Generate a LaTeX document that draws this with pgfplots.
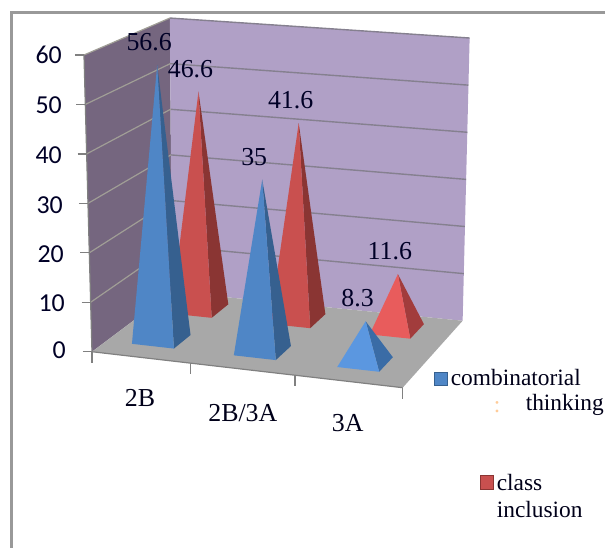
\documentclass[border=0pt]{standalone}
\usepackage{fontspec}
\setmainfont{Liberation Serif}
\newfontfamily\axisfont{Carlito}
\usepackage{pgfplots}
\usepackage{pgfplotstable}
\pgfplotsset{compat=1.18}

\definecolor{wallback}{HTML}{B0A0C6}
\definecolor{wallleft}{HTML}{75667F}
\definecolor{floorgray}{HTML}{A8A8A8}
\definecolor{framegray}{HTML}{999999}
\definecolor{gridback}{HTML}{85808F}
\definecolor{gridleft}{HTML}{A09E96}
\definecolor{tickgray}{HTML}{808080}
\definecolor{bluefront}{HTML}{4F86C6}
\definecolor{blueside}{HTML}{36608F}
\definecolor{redfront}{HTML}{C9504F}
\definecolor{redside}{HTML}{8A3533}
\definecolor{bluefrontlt}{HTML}{5B97E0}
\definecolor{bluesidelt}{HTML}{3A6CA6}
\definecolor{redfrontlt}{HTML}{E85C5C}
\definecolor{redsidelt}{HTML}{A23C3C}

% Faces of a unit pyramid: du, dv are base offsets, t is the fraction of the height
\pgfplotstableread{
du dv t
-1 -1 0
1 -1 0
0 0 1
}\frontface
\pgfplotstableread{
du dv t
1 -1 0
1 1 0
0 0 1
}\sideface

% Walls and floor, u in categories (0..3), v in depth (0..1), w in axis value (0..60)
\pgfplotstableread{
u v w
0 0 0
0 1 0
0 1 60
0 0 60
}\leftwall
\pgfplotstableread{
u v w
0 1 0
3 1 0
3 1 60
0 1 60
}\backwall
\pgfplotstableread{
u v w
0 0 0
3 0 0
3 1 0
0 1 0
}\floorpanel

\pgfplotsset{
  /pgfplots/table/chartxy/.style={
    x expr={px(\thisrow{u},\thisrow{v},\thisrow{w})},
    y expr={py(\thisrow{u},\thisrow{v},\thisrow{w})}},
}

% #1 category position, #2 depth position, #3 value, #4 front colour, #5 side colour
\newcommand{\pyramid}[5]{
  \addplot[fill=#5, draw=none] table[
    x expr={px(#1+0.205*\thisrow{du},#2+0.11*\thisrow{dv},#3*\thisrow{t})},
    y expr={py(#1+0.205*\thisrow{du},#2+0.11*\thisrow{dv},#3*\thisrow{t})}] {\sideface} -- cycle;
  \addplot[fill=#4, draw=none] table[
    x expr={px(#1+0.205*\thisrow{du},#2+0.11*\thisrow{dv},#3*\thisrow{t})},
    y expr={py(#1+0.205*\thisrow{du},#2+0.11*\thisrow{dv},#3*\thisrow{t})}] {\frontface} -- cycle;
  \addplot[draw=none, mark=none,
    nodes near coords={#3},
    nodes near coords style={anchor=center, xshift=-8bp, yshift=23bp, font=\fontsize{26}{30}\selectfont, text=black!85!blue}]
    table[row sep=\\, x expr={px(#1,#2,#3)}, y expr={py(#1,#2,#3)}] {t\\1\\};
}

\begin{document}
\begin{tikzpicture}
\begin{axis}[
  scale only axis, width=605bp, height=547bp,
  xmin=0, xmax=605, ymin=0, ymax=547, y dir=reverse,
  hide axis, clip=false,
  declare function={
    px(\U,\V,\W)=(1-\V)*((1-\U/3)*92+(\U/3)*403)+\V*((1-\U/3)*172+(\U/3)*463)
      +(\W/60)*((1-\V)*((1-\U/3)*(-8)+(\U/3)*5)+\V*((1-\U/3)*(-2)+(\U/3)*7));
    py(\U,\V,\W)=(1-\V)*((1-\U/3)*352+(\U/3)*388)+\V*((1-\U/3)*292+(\U/3)*321)
      +(\W/60)*((1-\V)*((1-\U/3)*(-297)+(\U/3)*(-303))+\V*((1-\U/3)*(-274)+(\U/3)*(-283)));
  },
]
% the picture covers the whole plotting rectangle, margins included
\addplot[draw=white, line width=0.1bp] coordinates {(0,0) (605,0) (605,547) (0,547)} -- cycle;

% outer frame of the chart area: left side and top side
\addplot[framegray, line width=3bp, line cap=rect] coordinates {(11,547) (11,12.5) (604,12.5)};

% walls and floor
\addplot[fill=wallleft, draw=none] table[chartxy] {\leftwall} -- cycle;
\addplot[fill=wallback, draw=none] table[chartxy] {\backwall} -- cycle;
\addplot[fill=floorgray, draw=none] table[chartxy] {\floorpanel} -- cycle;

% horizontal gridlines on both walls
\pgfplotsinvokeforeach{10,20,30,40,50,60}{
  \addplot[color=gridback, line width=1.4bp] table[row sep=\\,chartxy] {u v w\\3 1 #1\\0 1 #1\\};
  \addplot[color=gridleft, line width=1.2bp] table[row sep=\\,chartxy] {u v w\\0 1 #1\\0 0 #1\\};
}
% vertical axis line and value ticks
\addplot[color=tickgray, line width=1.2bp] table[row sep=\\,chartxy] {u v w\\0 0 0\\0 0 60\\};
\pgfplotsinvokeforeach{0,10,20,30,40,50,60}{
  \addplot[color=tickgray, line width=1.2bp] table[row sep=\\, x expr={px(0,0,#1)-\thisrow{d}}, y expr={py(0,0,#1)}] {d\\9\\0\\};
}
% front edge of the floor and category ticks
\addplot[color=tickgray, line width=1.2bp] table[row sep=\\,chartxy] {u v w\\0 0 0\\3 0 0\\};
\pgfplotsinvokeforeach{0,0.955,1.96,3}{
  \addplot[color=tickgray, line width=1.2bp] table[row sep=\\, x expr={px(#1,0,0)}, y expr={py(#1,0,0)+\thisrow{d}}] {d\\0\\11\\};
}

% pyramids, back to front within each category
\pyramid{0.455}{0.79}{46.6}{redfront}{redside}
\pyramid{0.455}{0.29}{56.6}{bluefront}{blueside}
\pyramid{1.45}{0.79}{41.6}{redfront}{redside}
\pyramid{1.45}{0.29}{35}{bluefront}{blueside}
\pyramid{2.46}{0.79}{11.6}{redfrontlt}{redsidelt}
\pyramid{2.46}{0.29}{8.3}{bluefrontlt}{bluesidelt}

% value axis labels
\tikzset{vlab/.style={font=\axisfont\fontsize{26}{30}\selectfont, text=black!85!blue, anchor=east, inner sep=0pt}}
\node[vlab] at (axis cs:62,55) {60};
\node[vlab] at (axis cs:62,105) {50};
\node[vlab] at (axis cs:62,155) {40};
\node[vlab] at (axis cs:63,205) {30};
\node[vlab] at (axis cs:64,254) {20};
\node[vlab] at (axis cs:65,303) {10};
\node[vlab] at (axis cs:66,350) {0};

% category labels
\tikzset{clab/.style={font=\fontsize{26}{30}\selectfont, text=black!90!blue, anchor=center}}
\node[clab] at (axis cs:140,398) {2B};
\node[clab] at (axis cs:243,413) {2B/3A};
\node[clab] at (axis cs:348,423) {3A};

% legend
\addplot[fill=bluefront, draw=blueside] coordinates {(435,372) (448,372) (448,385) (435,385)} -- cycle;
\addplot[fill=redfront, draw=redside] coordinates {(481,476) (494,476) (494,490) (481,490)} -- cycle;
\tikzset{leg/.style={font=\fontsize{23.5}{28}\selectfont, text=black!90!blue, anchor=west, inner sep=0pt}}
\node[leg] at (axis cs:451,378) {combinatorial};
\node[leg] at (axis cs:526,405) {thinking};
\node[leg, text=orange!40!white] at (axis cs:494,407) {:};
\node[leg] at (axis cs:497,483) {class};
\node[leg] at (axis cs:497,510) {inclusion};
\end{axis}
\end{tikzpicture}
\end{document}
